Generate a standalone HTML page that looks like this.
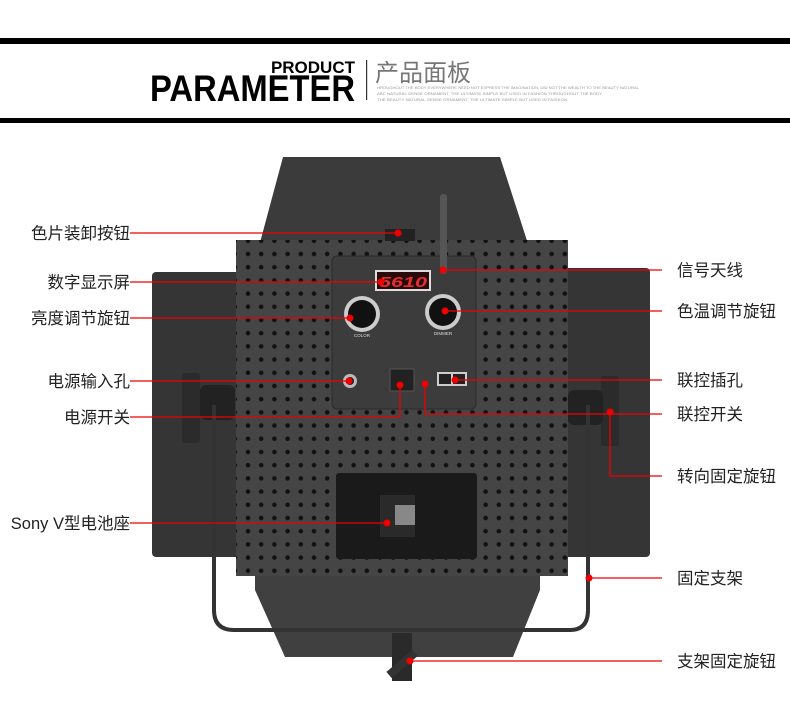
<!DOCTYPE html>
<html><head><meta charset="utf-8"><style>
html,body{margin:0;padding:0;background:#fff;}
svg{display:block;}
text{font-family:"Liberation Sans","Noto Sans CJK SC",sans-serif;}
</style></head><body>
<svg width="790" height="725" viewBox="0 0 790 725" xmlns="http://www.w3.org/2000/svg">
<defs>
<pattern id="dots" x="242" y="248" width="13.2" height="13.2" patternUnits="userSpaceOnUse">
<circle cx="6" cy="6" r="2.3" fill="#111"/>
</pattern>
</defs>
<rect x="0" y="38" width="790" height="6" fill="#000"/>
<rect x="0" y="118" width="790" height="5" fill="#000"/>
<text x="355" y="73" text-anchor="end" font-size="17" font-weight="bold" fill="#000">PRODUCT</text>
<text x="150" y="101" font-size="37" font-weight="bold" fill="#000" textLength="205" lengthAdjust="spacingAndGlyphs">PARAMETER</text>
<rect x="366" y="60" width="1.2" height="40" fill="#333"/>
<text x="375" y="81" font-size="24" fill="#777">产品面板</text>
<text x="377" y="89" font-size="4" fill="#999" textLength="262" lengthAdjust="spacingAndGlyphs">HROUGHOUT THE BODY EVERYWHERE NEED NOT EXPRESS THE IMAGINATION, DID NOT THE WEALTH TO THE BEAUTY NATURAL</text>
<text x="377" y="95" font-size="4" fill="#999" textLength="225" lengthAdjust="spacingAndGlyphs">ABC NATURAL GENSE ORNAMENT, THE ULTIMATE SIMPLE BUT USED IN FASHION THROUGHOUT THE BODY</text>
<text x="377" y="101" font-size="4" fill="#999" textLength="190" lengthAdjust="spacingAndGlyphs">THE BEAUTY NATURAL GENSE ORNAMENT, THE ULTIMATE SIMPLE BUT USED IN FASHION</text>

<polygon points="283,157 500,157 530,250 258,250" fill="#3b3b3b"/>
<rect x="152" y="272" width="90" height="285" rx="4" fill="#353535"/>
<rect x="555" y="268" width="95" height="289" rx="4" fill="#353535"/>
<polygon points="255,575 540,575 540,590 513,657 285,657 255,590" fill="#404040"/>
<rect x="236" y="240" width="332" height="336" fill="#454545"/>
<rect x="236" y="240" width="332" height="336" fill="url(#dots)"/>
<rect x="385" y="229" width="30" height="12" fill="#222"/>
<rect x="332" y="256" width="144" height="153" rx="5" fill="#3c3c3c" stroke="#2a2a2a"/>
<rect x="440" y="194" width="7" height="80" rx="3" fill="#555"/>
<rect x="375" y="270" width="56" height="21" fill="#ddd"/>
<rect x="377" y="272" width="52" height="17" fill="#2a0a0a"/>
<text x="379" y="287" font-size="15" font-weight="bold" fill="#e23030" font-style="italic" textLength="48" lengthAdjust="spacingAndGlyphs">5610</text>
<circle cx="362" cy="314" r="18" fill="#ccc"/><circle cx="362" cy="314" r="14" fill="#111"/>
<circle cx="443" cy="312" r="18" fill="#ccc"/><circle cx="443" cy="312" r="14" fill="#111"/>
<text x="362" y="337" font-size="4.5" fill="#ddd" text-anchor="middle">COLOR</text>
<text x="443" y="335" font-size="4.5" fill="#ddd" text-anchor="middle">DIMMER</text>
<circle cx="350" cy="381" r="7" fill="#bbb"/><circle cx="350" cy="381" r="4" fill="#222"/>
<rect x="390" y="369" width="24" height="22" fill="#222" stroke="#555"/>
<rect x="437" y="372" width="30" height="14" fill="#ccc"/>
<rect x="439" y="374" width="12" height="10" fill="#222"/><rect x="453" y="374" width="12" height="10" fill="#222"/>
<rect x="182" y="373" width="18" height="70" rx="3" fill="#2b2b2b"/>
<rect x="601" y="376" width="18" height="70" rx="3" fill="#2b2b2b"/>
<rect x="200" y="385" width="35" height="35" rx="6" fill="#222"/>
<rect x="568" y="390" width="35" height="35" rx="6" fill="#222"/>
<path d="M214,405 L214,610 Q214,630 234,630 L570,630 Q588,630 588,610 L588,405" fill="none" stroke="#333" stroke-width="4"/>
<rect x="336" y="473" width="141" height="86" rx="3" fill="#1a1a1a"/>
<rect x="380" y="495" width="35" height="42" fill="#2a2a2a"/>
<rect x="395" y="505" width="20" height="20" fill="#888"/>
<rect x="392" y="633" width="20" height="48" fill="#2a2a2a"/>
<rect x="385" y="660" width="34" height="8" fill="#333" transform="rotate(-40 402 664)"/>

<g stroke="#e00" stroke-width="1.3" fill="none">
<path d="M130,233 H398"/><path d="M130,282 H381"/><path d="M130,318 H350"/>
<path d="M130,381 H349"/><path d="M130,417 H400 V385"/><path d="M130,523 H387"/>
<path d="M443,270 H662"/><path d="M445,311 H662"/><path d="M455,380 H662"/>
<path d="M425,384 V414 H662"/><path d="M610,412 V476 H662"/>
<path d="M589,578 H662"/><path d="M410,661 H662"/>
</g>
<g fill="#e00">
<circle cx="398" cy="233" r="3.5"/><circle cx="381" cy="282" r="3.5"/><circle cx="350" cy="318" r="3.5"/>
<circle cx="349" cy="381" r="3.5"/><circle cx="400" cy="385" r="3.5"/><circle cx="387" cy="523" r="3.5"/>
<circle cx="443" cy="270" r="3.5"/><circle cx="445" cy="311" r="3.5"/><circle cx="455" cy="380" r="3.5"/>
<circle cx="425" cy="384" r="3.5"/><circle cx="610" cy="412" r="3.5"/><circle cx="589" cy="578" r="3.5"/>
<circle cx="410" cy="661" r="3.5"/>
</g>
<g font-size="16.5" fill="#222">
<text x="130" y="239" text-anchor="end">色片装卸按钮</text>
<text x="130" y="288" text-anchor="end">数字显示屏</text>
<text x="130" y="324" text-anchor="end">亮度调节旋钮</text>
<text x="130" y="387" text-anchor="end">电源输入孔</text>
<text x="130" y="423" text-anchor="end">电源开关</text>
<text x="130" y="529" text-anchor="end">Sony V型电池座</text>
<text x="677" y="276">信号天线</text>
<text x="677" y="317">色温调节旋钮</text>
<text x="677" y="386">联控插孔</text>
<text x="677" y="420">联控开关</text>
<text x="677" y="482">转向固定旋钮</text>
<text x="677" y="584">固定支架</text>
<text x="677" y="667">支架固定旋钮</text>
</g>
</svg>
</body></html>
